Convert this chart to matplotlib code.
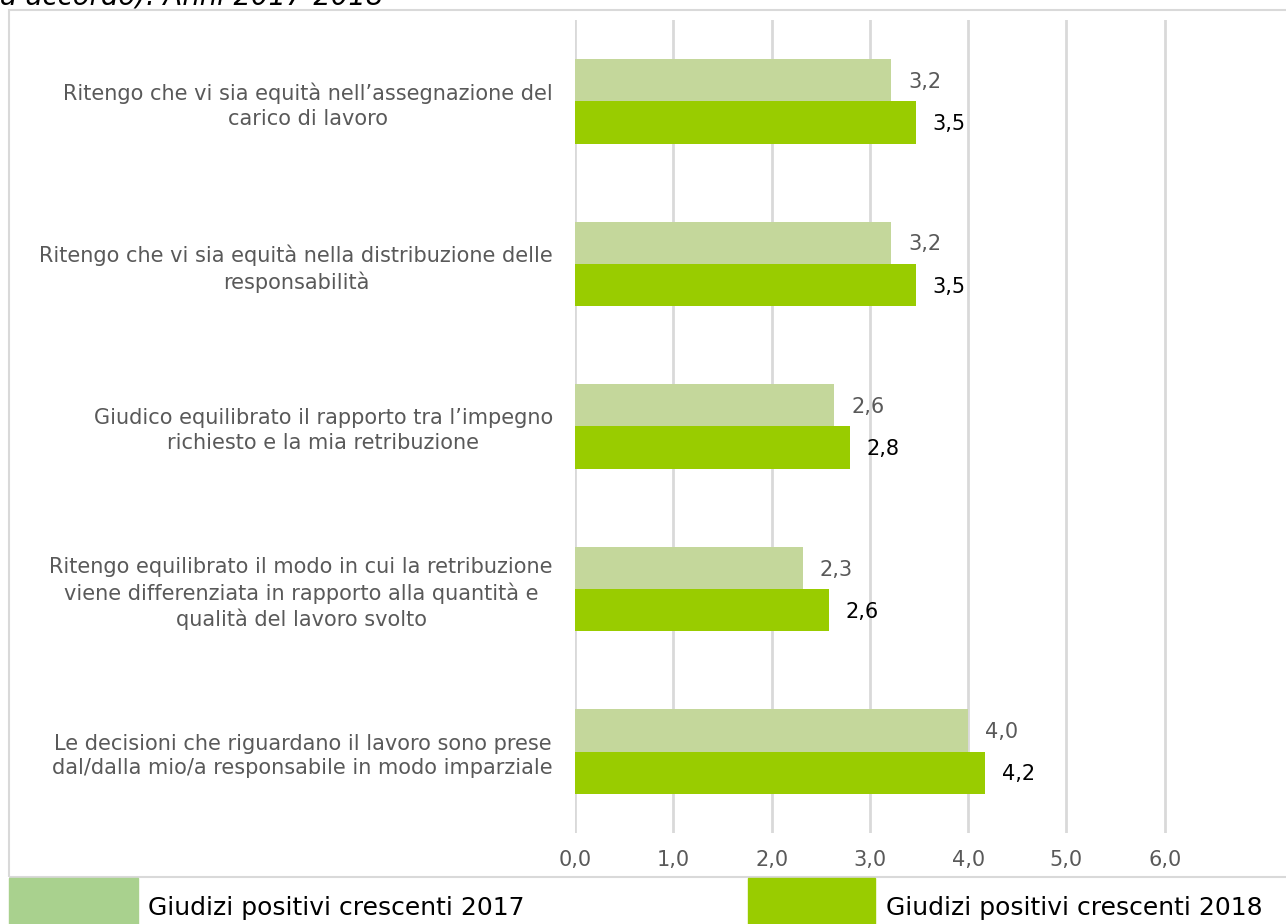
import numpy as np
import matplotlib
matplotlib.use("Agg")
from matplotlib import pyplot as plt
from matplotlib.patches import Rectangle

categorie = [
    "Ritengo che vi sia equità nell\u2019assegnazione del\ncarico di lavoro",
    "Ritengo che vi sia equità nella distribuzione delle\nresponsabilità",
    "Giudico equilibrato il rapporto tra l\u2019impegno\nrichiesto e la mia retribuzione",
    "Ritengo equilibrato il modo in cui la retribuzione\nviene differenziata in rapporto alla quantità e\nqualità del lavoro svolto",
    "Le decisioni che riguardano il lavoro sono prese\ndal/dalla mio/a responsabile in modo imparziale",
]
valori_2017 = [3.22, 3.22, 2.64, 2.32, 4.0]
valori_2018 = [3.47, 3.47, 2.80, 2.58, 4.17]
etichette_2017 = ["3,2", "3,2", "2,6", "2,3", "4,0"]
etichette_2018 = ["3,5", "3,5", "2,8", "2,6", "4,2"]
tick_x = [0, 1, 2, 3, 4, 5, 6]
tick_lab = ["0,0", "1,0", "2,0", "3,0", "4,0", "5,0", "6,0"]
serie = ["Giudizi positivi crescenti 2017", "Giudizi positivi crescenti 2018"]

col_2017 = "#C4D79B"
col_2018 = "#99CC00"
col_leg_2017 = "#A9D18E"
grigio = "#595959"

W, H = 1286, 924
fig = plt.figure(figsize=(W / 100, H / 100), dpi=100)

# bordo del grafico
fig.patches.append(Rectangle((9 / W, 1 - 877 / H), 1.0, (877 - 10) / H,
                             transform=fig.transFigure, fill=False,
                             edgecolor="#D9D9D9", linewidth=1.5))

# titolo tagliato in alto
fig.text(0.0, 1 - 4 / H, "a accordo). Anni 2017-2018", style="italic",
         fontsize=19.8, va="baseline", ha="left", color="black")

ax = fig.add_axes([575 / W, 1 - 833 / H, (1263 - 575) / W, (833 - 20) / H])

y = np.arange(len(categorie))
h = 0.26
ax.barh(y - h / 2, valori_2017, height=h, color=col_2017, zorder=3)
ax.barh(y + h / 2, valori_2018, height=h, color=col_2018, zorder=3)

for i in range(len(categorie)):
    ax.annotate(etichette_2017[i], (valori_2017[i], y[i] - h / 2 + 0.01),
                xytext=(12, 0), textcoords="offset points", va="center",
                ha="left", fontsize=15, color=grigio)
    ax.annotate(etichette_2018[i], (valori_2018[i], y[i] + h / 2 + 0.01),
                xytext=(12, 0), textcoords="offset points", va="center",
                ha="left", fontsize=15, color="black")

ax.set_xlim(0, 7)
ax.set_ylim(len(categorie) - 0.5, -0.5)
ax.set_xticks(tick_x)
ax.set_xticklabels(tick_lab, fontsize=15, color=grigio)
ax.set_yticks(y)
ax.set_yticklabels(categorie, fontsize=15, color=grigio,
                   multialignment="center", linespacing=1.3)
ax.tick_params(axis="y", length=0, pad=16)
ax.tick_params(axis="x", length=0, pad=12)
ax.grid(axis="x", color="#D9D9D9", linewidth=2, zorder=0)
for s in ax.spines.values():
    s.set_visible(False)

# legenda
fig.patches.append(Rectangle((9 / W, 0), (138 - 9) / W, (924 - 878) / H,
                             transform=fig.transFigure, color=col_leg_2017))
fig.patches.append(Rectangle((748 / W, 0), (875 - 748) / W, (924 - 878) / H,
                             transform=fig.transFigure, color=col_2018))
fig.text(148 / W, 1 - 908 / H, serie[0], fontsize=18, va="center", ha="left")
fig.text(886 / W, 1 - 908 / H, serie[1], fontsize=18, va="center", ha="left")

fig.savefig("out.png", dpi=100)
